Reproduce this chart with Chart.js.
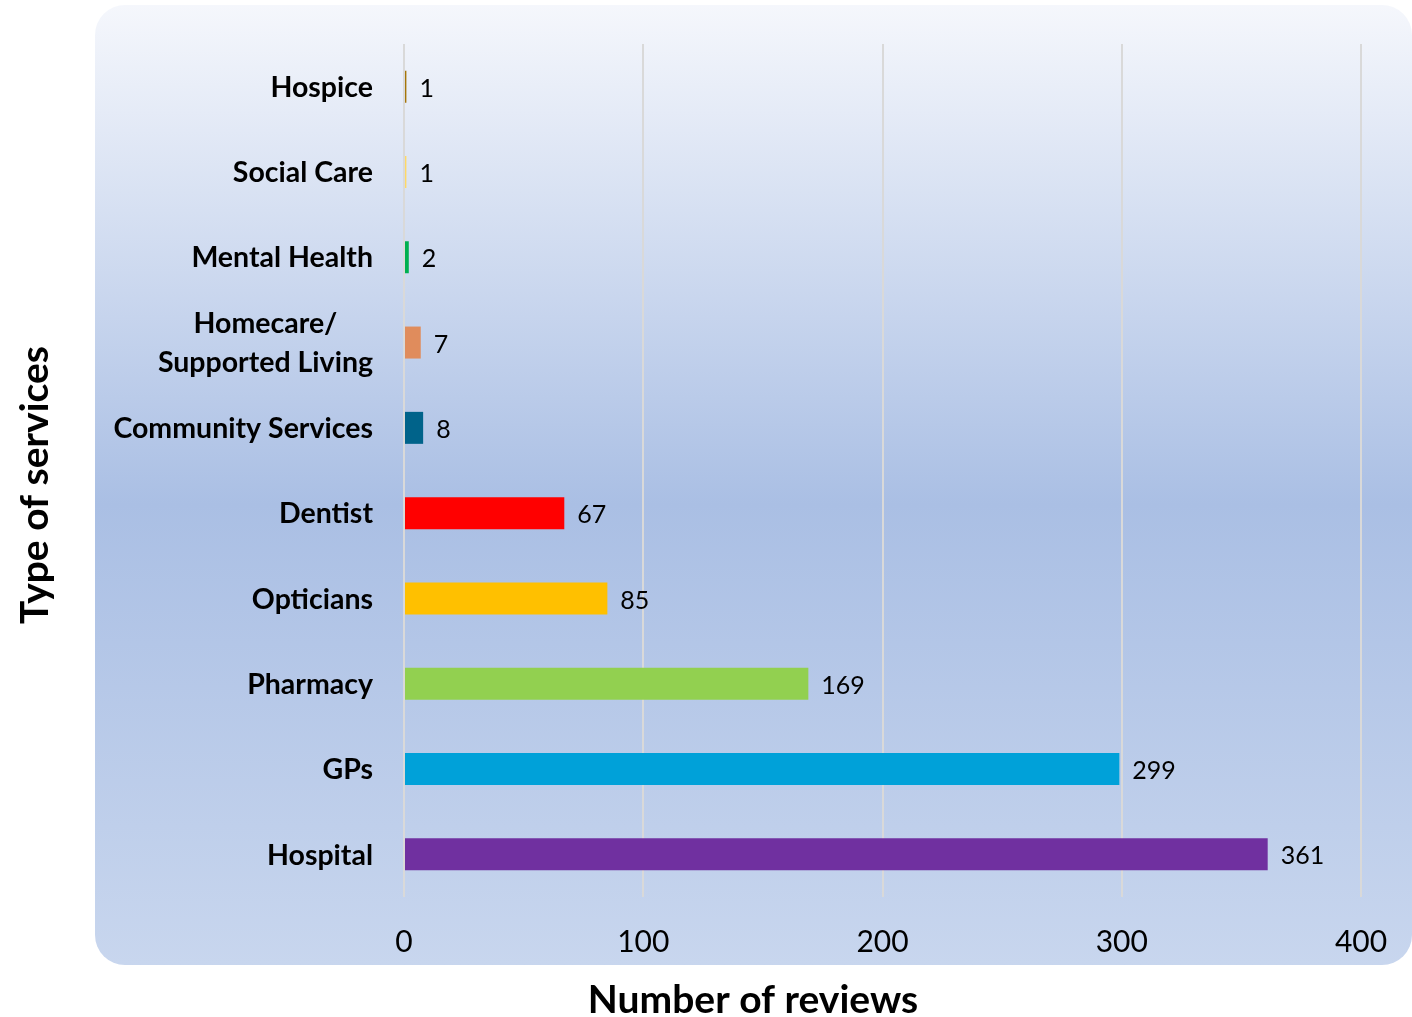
<!DOCTYPE html>
<html>
<head>
<meta charset="utf-8">
<script src="https://cdn.jsdelivr.net/npm/chart.js@4.4.1/dist/chart.umd.min.js"></script>
<style>
  html, body { margin: 0; padding: 0; background: #fff; }
  #caixa { width: 1412px; height: 1017px; }
</style>
</head>
<body>
<div id="caixa"><canvas id="graficoServicos"></canvas></div>
<script>
// Dados
const categorias = ['Hospice', 'Social Care', 'Mental Health', ['Homecare/', 'Supported Living'],
  'Community Services', 'Dentist', 'Opticians', 'Pharmacy', 'GPs', 'Hospital'];
const avaliacoes = [1, 1, 2, 7, 8, 67, 85, 169, 299, 361];
const coresBarras = ['#a57508', '#ffd966', '#00b050', '#e08c5c', '#00638a',
  '#ff0000', '#ffc000', '#92d050', '#00a1d9', '#7030a0'];
const ticksX = [0, 100, 200, 300, 400];
const tituloX = 'Number of reviews';
const tituloY = 'Type of services';

const fonte = 'Lato, "Open Sans", sans-serif';

// Painel com gradiente e cantos arredondados
const painelFundo = {
  id: 'painelFundo',
  beforeDraw(chart) {
    const ctx = chart.ctx;
    const x = 95, y = 5, w = 1412 - 95, h = 960;
    const grad = ctx.createLinearGradient(0, y, 0, y + h);
    grad.addColorStop(0, '#f5f7fc');
    grad.addColorStop(0.52, '#aabfe4');
    grad.addColorStop(1, '#c8d6ee');
    ctx.save();
    ctx.fillStyle = grad;
    ctx.beginPath();
    ctx.roundRect(x, y, w, h, 30);
    ctx.fill();
    ctx.restore();
  }
};

// Rótulos das categorias, valores e títulos dos eixos
const textos = {
  id: 'textos',
  afterDatasetsDraw(chart) {
    const ctx = chart.ctx;
    const escalaY = chart.scales.y;
    ctx.save();
    ctx.fillStyle = '#000';
    ctx.textBaseline = 'middle';

    // categorias
    ctx.font = 'bold 28.5px ' + fonte;
    const direita = 373;
    categorias.forEach((rotulo, i) => {
      const yc = escalaY.getPixelForValue(i) + 1;
      if (Array.isArray(rotulo)) {
        const larguraMax = Math.max(...rotulo.map(l => ctx.measureText(l).width));
        ctx.textAlign = 'center';
        const alturaLinha = 39;
        rotulo.forEach((linha, j) => {
          const yl = yc + (j - (rotulo.length - 1) / 2) * alturaLinha;
          ctx.fillText(linha, direita - larguraMax / 2, yl);
        });
      } else {
        ctx.textAlign = 'right';
        ctx.fillText(rotulo, direita, yc);
      }
    });

    // valores ao lado das barras
    ctx.font = '25px ' + fonte;
    ctx.textAlign = 'left';
    chart.getDatasetMeta(0).data.forEach((barra, i) => {
      ctx.fillText(String(avaliacoes[i]), barra.x + 13, barra.y + 2);
    });

    // títulos dos eixos
    ctx.font = 'bold 39px ' + fonte;
    ctx.textAlign = 'center';
    ctx.fillText(tituloX, 753, 1000);
    ctx.translate(35, 485);
    ctx.rotate(-Math.PI / 2);
    ctx.fillText(tituloY, 0, 0);
    ctx.restore();
  }
};

new Chart(document.getElementById('graficoServicos'), {
  type: 'bar',
  data: {
    labels: categorias,
    datasets: [{
      data: avaliacoes,
      backgroundColor: coresBarras,
      barPercentage: 0.375,
      categoryPercentage: 1
    }]
  },
  options: {
    indexAxis: 'y',
    responsive: true, maintainAspectRatio: false,
    animation: false,
    layout: { padding: { top: 44, right: 51, left: 0, bottom: 0 } },
    plugins: { legend: { display: false }, tooltip: { enabled: false } },
    scales: {
      x: {
        min: 0, max: 400,
        afterBuildTicks: escala => { escala.ticks = ticksX.map(v => ({ value: v })); },
        afterFit: escala => {
          escala.height = 120;
          escala.paddingLeft = 0;
          escala.paddingRight = 0;
        },
        grid: { color: '#d9d9d9', lineWidth: 2, drawTicks: false },
        border: { display: false },
        ticks: { color: '#000', padding: 27, font: { family: fonte, size: 30 } }
      },
      y: {
        afterFit: escala => { escala.width = 404; },
        grid: { display: false, drawTicks: false },
        border: { display: false },
        ticks: { display: false }
      }
    }
  },
  plugins: [painelFundo, textos]
});
</script>
</body>
</html>
